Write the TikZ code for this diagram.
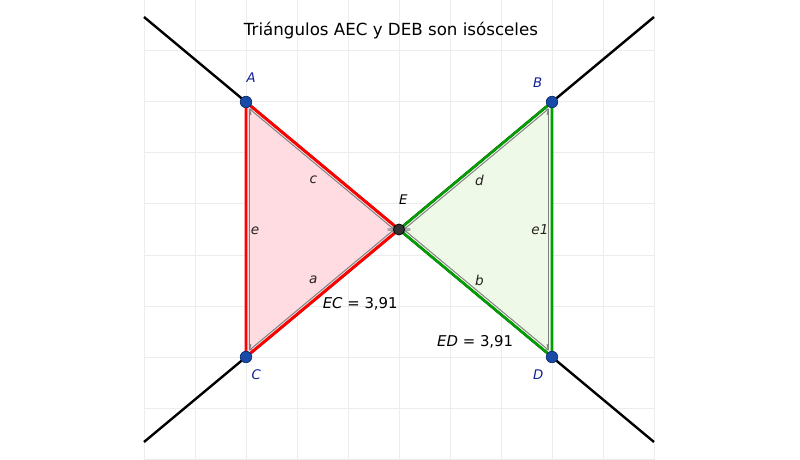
\documentclass[tikz,border=0pt]{standalone}
\usepackage{fontspec}
\setmainfont{DejaVu Sans}
\usetikzlibrary{arrows.meta}
\definecolor{gridc}{RGB}{236,236,236}
\definecolor{redline}{RGB}{255,0,0}
\definecolor{redfill}{RGB}{255,220,225}
\definecolor{greenline}{RGB}{0,160,0}
\definecolor{greenfill}{RGB}{238,249,231}
\definecolor{ptblue}{RGB}{24,74,168}
\definecolor{ptedge}{RGB}{14,44,110}
\definecolor{lblblue}{RGB}{18,32,150}
\definecolor{vecgray}{RGB}{128,128,128}
\definecolor{lbldark}{RGB}{40,34,34}
\tikzset{
  gridline/.style={gridc, line width=0.55pt},
  blackline/.style={black, line width=1.35pt},
  redside/.style={redline, line width=1.6pt, line join=round},
  greenside/.style={greenline, line width=1.4pt, line join=round},
  vec/.style={vecgray, line width=0.55pt},
  vectip/.style={vec, {Straight Barb[length=2.6pt,width=4.2pt]}-{Straight Barb[length=2.6pt,width=4.2pt]}},
  ptdot/.style={circle, fill=ptblue, draw=ptedge, line width=0.4pt, minimum size=6.4pt, inner sep=0pt},
  edot/.style={circle, fill=black!80, draw=black, line width=0.4pt, minimum size=6.2pt, inner sep=0pt},
  ptlabel/.style={text=lblblue, font=\fontsize{7.4pt}{8pt}\selectfont\itshape, inner sep=0pt},
  veclabel/.style={text=lbldark, font=\fontsize{7.6pt}{8pt}\selectfont\itshape, inner sep=0pt},
  measure/.style={text=black, font=\fontsize{8.3pt}{10pt}\selectfont, inner sep=0pt},
  title/.style={text=black, font=\fontsize{9.3pt}{11pt}\selectfont, inner sep=0pt}
}
\begin{document}
\begin{tikzpicture}[x=1cm,y=1cm]
\useasboundingbox (-7.8235,-4.5196) rectangle (7.8627,4.5);
\fill[white] (-7.8235,-4.5196) rectangle (7.8627,4.5);
% grid
\foreach \x in {-5,...,5} \draw[gridline] (\x,-4.5196) -- (\x,4.5);
\foreach \y in {-4.5,-3.5,...,4.5} \draw[gridline] (-5,\y) -- (5,\y);
% points
\coordinate (A) at (-3,2.5);
\coordinate (C) at (-3,-2.5);
\coordinate (E) at (0,0);
\coordinate (B) at (3,2.5);
\coordinate (D) at (3,-2.5);
\coordinate (L1) at (-5,4.1667);
\coordinate (L2) at (5,-4.1667);
\coordinate (L3) at (-5,-4.1667);
\coordinate (L4) at (5,4.1667);
% fills
\fill[redfill] (A) -- (E) -- (C) -- cycle;
\fill[greenfill] (B) -- (E) -- (D) -- cycle;
% black lines
\draw[blackline] (L1) -- (L2);
\draw[blackline] (L3) -- (L4);
% inset vector endpoints
\coordinate (Ai) at (-2.94,2.372);
\coordinate (Ci) at (-2.94,-2.372);
\coordinate (Eli) at (-0.094,0);
\coordinate (Bi) at (2.94,2.372);
\coordinate (Di) at (2.94,-2.372);
\coordinate (Eri) at (0.094,0);
\draw[vectip] (Ai) -- (Eli);
\draw[vectip] (Ci) -- (Eli);
\draw[vec] (Ai) -- (Ci);
\draw[vectip] (Bi) -- (Eri);
\draw[vectip] (Di) -- (Eri);
\draw[vec] (Bi) -- (Di);
% sides
\draw[redside] (A) -- (E) -- (C) -- cycle;
\draw[greenside] (B) -- (E) -- (D) -- cycle;
% dots
\node[ptdot] (nA) at (A) {};
\node[ptdot] (nC) at (C) {};
\node[ptdot] (nB) at (B) {};
\node[ptdot] (nD) at (D) {};
\node[edot] (nE) at (E) {};
% labels
\node[ptlabel] (lA) at (-2.90,2.97) {A};
\node[ptlabel] (lB) at (2.72,2.88) {B};
\node[ptlabel] (lC) at (-2.80,-2.85) {C};
\node[ptlabel] (lD) at (2.73,-2.85) {D};
\node[ptlabel, text=black] (lE) at (0.085,0.59) {E};
\node[veclabel] (lc) at (-1.68,0.97) {c};
\node[veclabel] (la) at (-1.68,-0.99) {a};
\node[veclabel] (le) at (-2.82,-0.02) {e};
\node[veclabel] (ld) at (1.575,0.97) {d};
\node[veclabel] (lb) at (1.575,-0.99) {b};
\node[veclabel] (le1) at (2.765,0.0) {e1};
\node[measure] (mEC) at (-0.76,-1.46) {\textit{EC} = 3,91};
\node[measure] (mED) at (1.494,-2.20) {\textit{ED} = 3,91};
\node[title] (ttl) at (-0.157,3.91) {Triángulos AEC y DEB son isósceles};
\end{tikzpicture}
\end{document}
